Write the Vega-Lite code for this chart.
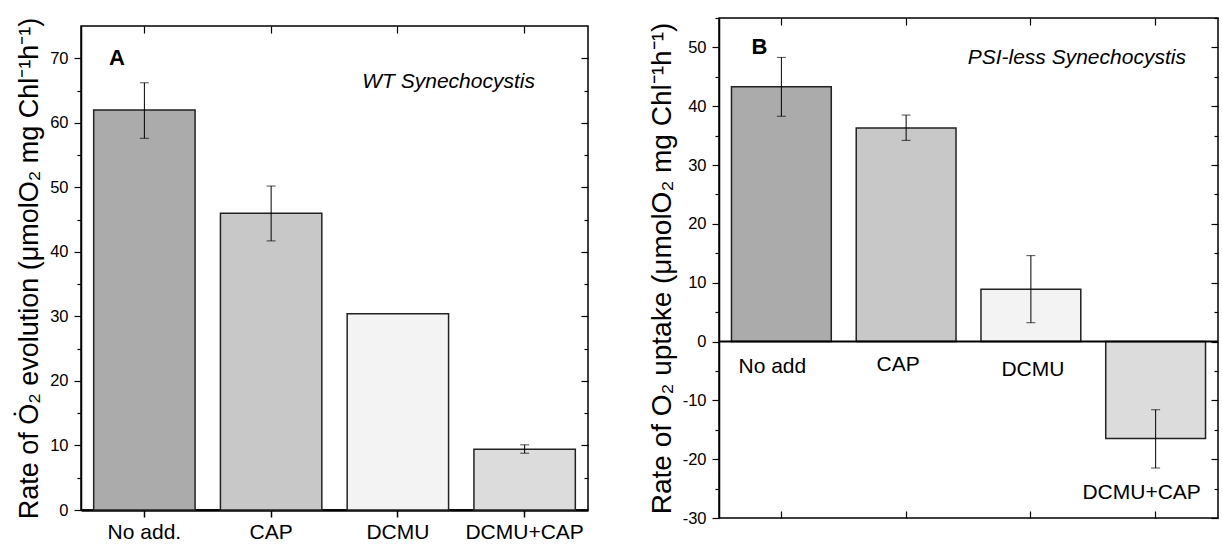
{
  "$schema": "https://vega.github.io/schema/vega-lite/v6.json",
  "background": "white",
  "padding": {"left": 14, "top": 16, "right": 4, "bottom": 4},
  "config": {
    "font": "Liberation Sans",
    "view": {"stroke": "black", "strokeWidth": 1.5},
    "axis": {"grid": false, "domainColor": "black", "tickColor": "black", "labelColor": "black", "titleColor": "black", "labelFont": "Liberation Sans", "titleFont": "Liberation Sans", "titleFontWeight": "normal"}
  },
  "spacing": 131,
  "bounds": "flush",
  "center": true,
  "hconcat": [
    {
      "width": 507,
      "height": 484,
      "data": {"values": [
        {"cat": "No add.", "v": 62.0, "lo": 57.6, "hi": 66.2},
        {"cat": "CAP", "v": 46.0, "lo": 41.7, "hi": 50.2},
        {"cat": "DCMU", "v": 30.4, "lo": null, "hi": null},
        {"cat": "DCMU+CAP", "v": 9.4, "lo": 8.8, "hi": 10.1}
      ]},
      "resolve": {"axis": {"x": "independent", "y": "independent"}},
      "layer": [
        {
          "mark": {"type": "bar", "stroke": "#222222", "strokeWidth": 1.5},
          "encoding": {
            "x": {"field": "cat", "type": "nominal", "sort": null,
              "scale": {"domain": ["No add.", "CAP", "DCMU", "DCMU+CAP"], "paddingInner": 0.2, "paddingOuter": 0.1},
              "axis": {"orient": "bottom", "title": null, "labelAngle": 0, "labelFontSize": 21, "labelPadding": 4, "tickSize": 7, "tickWidth": 1.5, "domainWidth": 2.5, "labelOverlap": false}},
            "y": {"field": "v", "type": "quantitative",
              "scale": {"domain": [0, 75], "nice": false},
              "axis": {"orient": "left", "title": "Rate of Ȯ₂ evolution (μmolO₂ mg Chl⁻¹h⁻¹)", "titleFontSize": 27, "titlePadding": 6,
                "values": [0, 5, 10, 15, 20, 25, 30, 35, 40, 45, 50, 55, 60, 65, 70],
                "labelExpr": "datum.value % 10 === 0 ? '' + datum.value : ''",
                "tickSize": {"condition": {"test": "datum.value % 10 === 0", "value": 7}, "value": 4},
                "labelFontSize": 16.5, "labelPadding": 6, "domainWidth": 1.5, "tickWidth": 1.2}},
            "color": {"field": "cat", "type": "nominal",
              "scale": {"domain": ["No add.", "CAP", "DCMU", "DCMU+CAP"], "range": ["#ababab", "#c8c8c8", "#f3f3f3", "#dcdcdc"]},
              "legend": null}
          }
        },
        {
          "mark": {"type": "rule", "color": "black", "strokeWidth": 1},
          "encoding": {
            "x": {"field": "cat", "type": "nominal", "sort": null,
              "scale": {"domain": ["No add.", "CAP", "DCMU", "DCMU+CAP"], "paddingInner": 0.2, "paddingOuter": 0.1},
              "axis": {"orient": "top", "title": null, "labels": false, "domain": false, "tickSize": -7, "tickWidth": 1.2}},
            "y": {"field": "lo", "type": "quantitative",
              "scale": {"domain": [0, 75], "nice": false},
              "axis": {"orient": "right", "title": null, "labels": false, "domain": false,
                "values": [0, 5, 10, 15, 20, 25, 30, 35, 40, 45, 50, 55, 60, 65, 70],
                "tickSize": {"condition": {"test": "datum.value % 10 === 0", "value": -7}, "value": -4}, "tickWidth": 1.2}},
            "y2": {"field": "hi"}
          }
        },
        {
          "mark": {"type": "tick", "orient": "horizontal", "size": 9, "thickness": 1, "color": "black"},
          "encoding": {
            "x": {"field": "cat", "type": "nominal", "sort": null, "axis": null},
            "y": {"field": "lo", "type": "quantitative", "axis": null}
          }
        },
        {
          "mark": {"type": "tick", "orient": "horizontal", "size": 9, "thickness": 1, "color": "black"},
          "encoding": {
            "x": {"field": "cat", "type": "nominal", "sort": null, "axis": null},
            "y": {"field": "hi", "type": "quantitative", "axis": null}
          }
        },
        {
          "data": {"values": [{"t": "A", "cat": "No add.", "v": 70}]},
          "mark": {"type": "text", "fontSize": 22, "fontWeight": "bold", "align": "left", "baseline": "middle", "color": "black"},
          "encoding": {
            "x": {"field": "cat", "type": "nominal", "bandPosition": 0.15, "axis": null},
            "y": {"field": "v", "type": "quantitative", "axis": null},
            "text": {"field": "t"}
          }
        },
        {
          "data": {"values": [{"t": "WT Synechocystis", "cat": "DCMU", "v": 66.3}]},
          "mark": {"type": "text", "fontSize": 21, "fontStyle": "italic", "align": "center", "baseline": "middle", "color": "black"},
          "encoding": {
            "x": {"field": "cat", "type": "nominal", "bandPosition": 1.0, "axis": null},
            "y": {"field": "v", "type": "quantitative", "axis": null},
            "text": {"field": "t"}
          }
        }
      ]
    },
    {
      "width": 499,
      "height": 500,
      "data": {"values": [
        {"cat": "No add", "v": 43.3, "lo": 38.3, "hi": 48.3},
        {"cat": "CAP", "v": 36.3, "lo": 34.2, "hi": 38.5},
        {"cat": "DCMU", "v": 8.9, "lo": 3.2, "hi": 14.6},
        {"cat": "DCMU+CAP", "v": -16.5, "lo": -21.5, "hi": -11.6}
      ]},
      "resolve": {"axis": {"x": "independent", "y": "independent"}},
      "layer": [
        {
          "mark": {"type": "bar", "stroke": "#222222", "strokeWidth": 1.5},
          "encoding": {
            "x": {"field": "cat", "type": "nominal", "sort": null,
              "scale": {"domain": ["No add", "CAP", "DCMU", "DCMU+CAP"], "paddingInner": 0.2, "paddingOuter": 0.1},
              "axis": {"orient": "bottom", "title": null, "labelAngle": 0, "labelFontSize": 21, "domain": false, "tickSize": -7, "tickWidth": 1.2, "labelOverlap": false,
                "labelPadding": {"condition": [
                  {"test": "datum.value === 'DCMU+CAP'", "value": -30},
                  {"test": "datum.value === 'CAP'", "value": -158},
                  {"test": "datum.value === 'DCMU'", "value": -153}
                ], "value": -156},
                "labelOffset": {"condition": [
                  {"test": "datum.value === 'DCMU+CAP'", "value": -14},
                  {"test": "datum.value === 'CAP'", "value": -8},
                  {"test": "datum.value === 'DCMU'", "value": 2}
                ], "value": -9}}},
            "y": {"field": "v", "type": "quantitative",
              "scale": {"domain": [-30, 55], "nice": false},
              "axis": {"orient": "left", "title": "Rate of O₂ uptake (μmolO₂ mg Chl⁻¹h⁻¹)", "titleFontSize": 28, "titlePadding": 6,
                "values": [-30, -25, -20, -15, -10, -5, 0, 5, 10, 15, 20, 25, 30, 35, 40, 45, 50, 55],
                "labelExpr": "datum.value % 10 === 0 ? '' + datum.value : ''",
                "tickSize": {"condition": {"test": "datum.value % 10 === 0", "value": 7}, "value": 4},
                "labelFontSize": 16.5, "labelPadding": 6, "domainWidth": 1.5, "tickWidth": 1.2}},
            "color": {"field": "cat", "type": "nominal",
              "scale": {"domain": ["No add", "CAP", "DCMU", "DCMU+CAP"], "range": ["#c4c4c4", "#adadad", "#f3f3f3", "#dcdcdc"]},
              "legend": null}
          }
        },
        {
          "mark": {"type": "rule", "color": "black", "strokeWidth": 1},
          "encoding": {
            "x": {"field": "cat", "type": "nominal", "sort": null,
              "scale": {"domain": ["No add", "CAP", "DCMU", "DCMU+CAP"], "paddingInner": 0.2, "paddingOuter": 0.1},
              "axis": {"orient": "top", "title": null, "labels": false, "domain": false, "tickSize": -7, "tickWidth": 1.2}},
            "y": {"field": "lo", "type": "quantitative",
              "scale": {"domain": [-30, 55], "nice": false},
              "axis": {"orient": "right", "title": null, "labels": false, "domain": false,
                "values": [-30, -25, -20, -15, -10, -5, 0, 5, 10, 15, 20, 25, 30, 35, 40, 45, 50, 55],
                "tickSize": {"condition": {"test": "datum.value % 10 === 0", "value": -7}, "value": -4}, "tickWidth": 1.2}},
            "y2": {"field": "hi"}
          }
        },
        {
          "mark": {"type": "tick", "orient": "horizontal", "size": 9, "thickness": 1, "color": "black"},
          "encoding": {
            "x": {"field": "cat", "type": "nominal", "sort": null, "axis": null},
            "y": {"field": "lo", "type": "quantitative", "axis": null}
          }
        },
        {
          "mark": {"type": "tick", "orient": "horizontal", "size": 9, "thickness": 1, "color": "black"},
          "encoding": {
            "x": {"field": "cat", "type": "nominal", "sort": null, "axis": null},
            "y": {"field": "hi", "type": "quantitative", "axis": null}
          }
        },
        {
          "data": {"values": [{"z": 0}]},
          "mark": {"type": "rule", "color": "black", "strokeWidth": 2},
          "encoding": {
            "y": {"field": "z", "type": "quantitative", "axis": null}
          }
        },
        {
          "data": {"values": [{"t": "B", "cat": "No add", "v": 50}]},
          "mark": {"type": "text", "fontSize": 22, "fontWeight": "bold", "align": "left", "baseline": "middle", "color": "black"},
          "encoding": {
            "x": {"field": "cat", "type": "nominal", "bandPosition": 0.2, "axis": null},
            "y": {"field": "v", "type": "quantitative", "axis": null},
            "text": {"field": "t"}
          }
        },
        {
          "data": {"values": [{"t": "PSI-less Synechocystis", "cat": "DCMU", "v": 48.2}]},
          "mark": {"type": "text", "fontSize": 21, "fontStyle": "italic", "align": "center", "baseline": "middle", "color": "black"},
          "encoding": {
            "x": {"field": "cat", "type": "nominal", "bandPosition": 0.96, "axis": null},
            "y": {"field": "v", "type": "quantitative", "axis": null},
            "text": {"field": "t"}
          }
        }
      ]
    }
  ]
}
